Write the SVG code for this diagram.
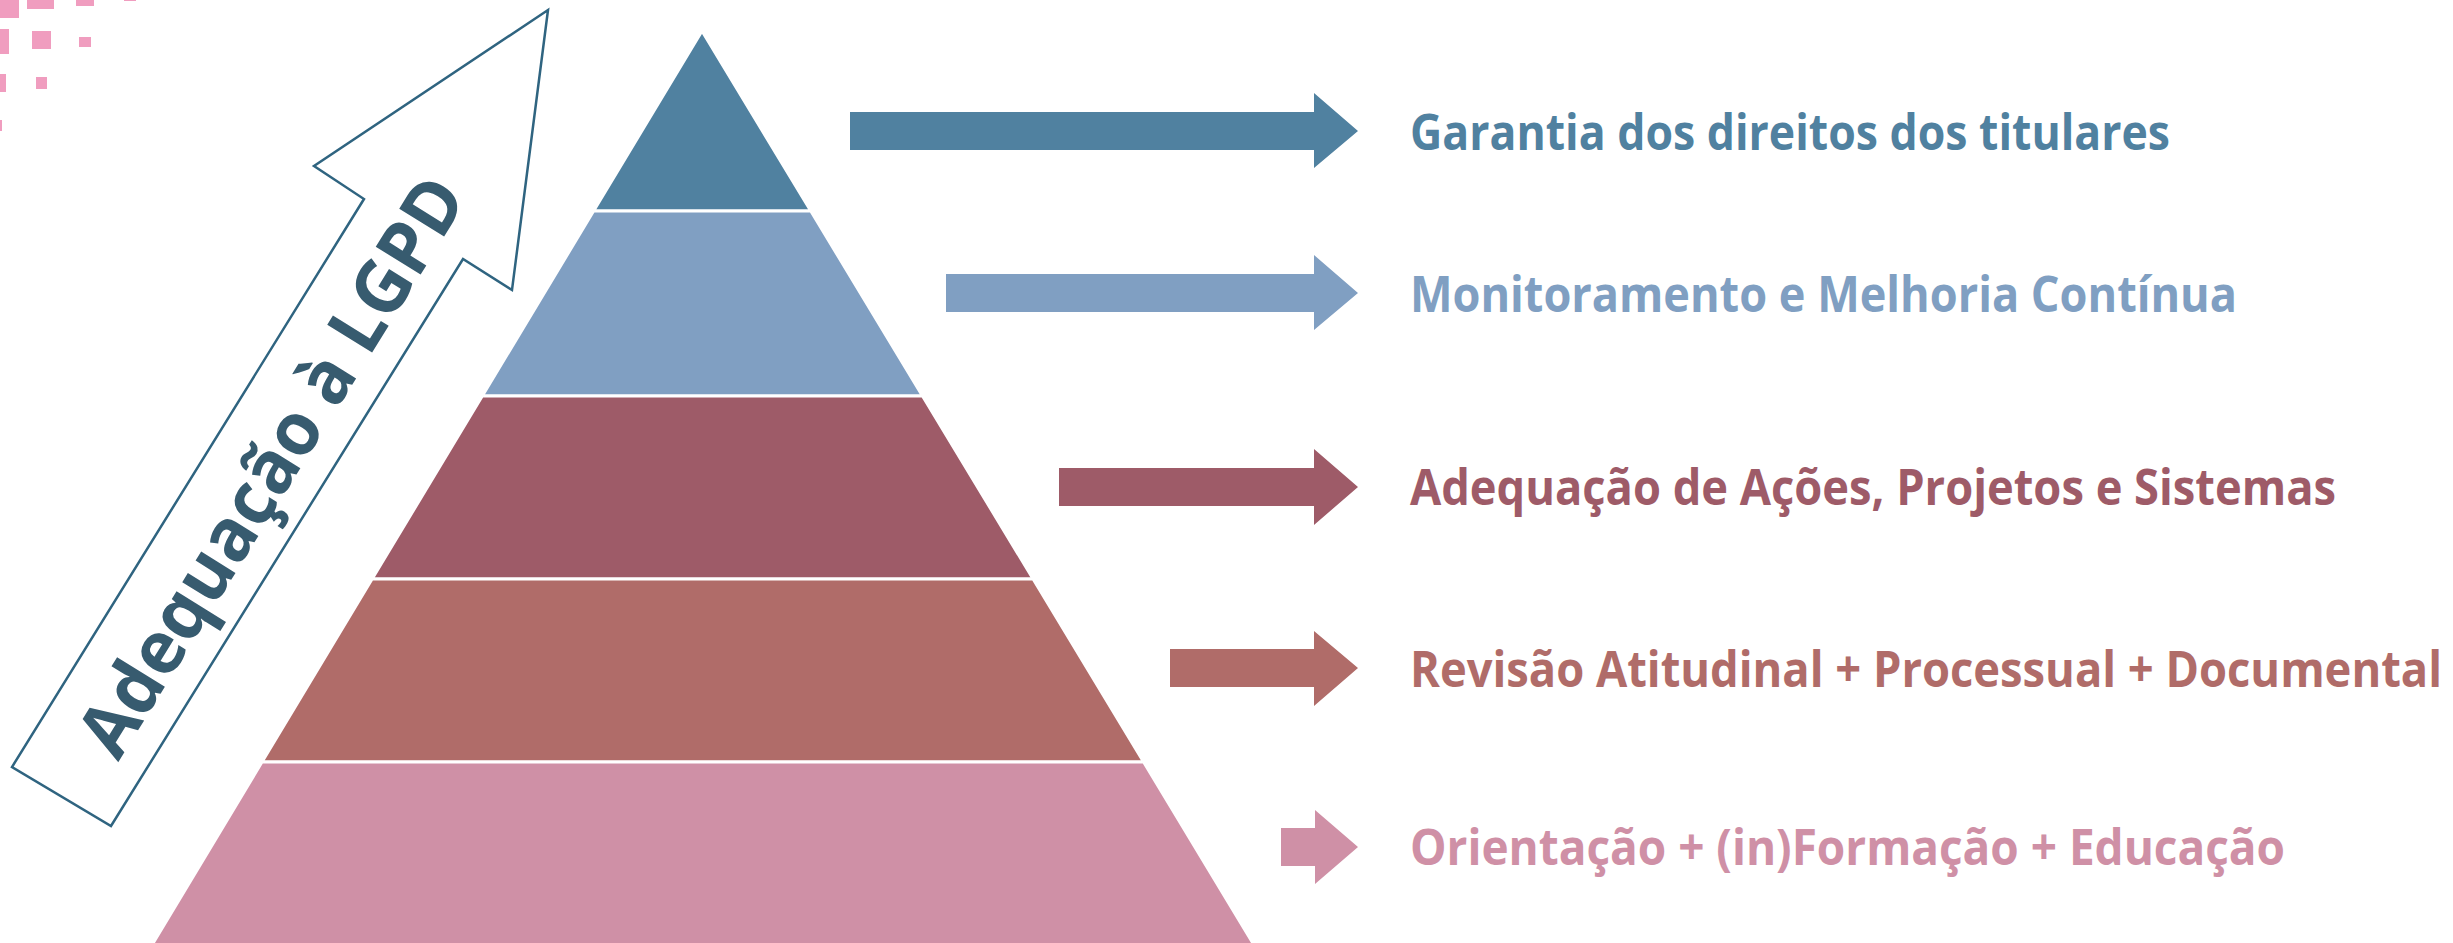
<svg xmlns="http://www.w3.org/2000/svg" width="2453" height="943" viewBox="0 0 2453 943">
<style>
.tier{stroke:#ffffff;stroke-width:3;stroke-linejoin:miter}
.lbl{font-family:"Open Sans","Noto Sans","Liberation Sans",sans-serif;font-weight:700;font-size:50px}
.sq{fill:#F09DBF}
</style>
<rect width="2453" height="943" fill="#ffffff"/>
<g id="decor">
<rect class="sq" x="0" y="0" width="19" height="18"/>
<rect class="sq" x="27" y="0" width="27" height="9"/>
<rect class="sq" x="76" y="0" width="18" height="6"/>
<rect class="sq" x="124" y="0" width="12" height="1"/>
<rect class="sq" x="0" y="29" width="9" height="25"/>
<rect class="sq" x="32" y="31" width="19" height="18"/>
<rect class="sq" x="79" y="37" width="12" height="10"/>
<rect class="sq" x="0" y="74" width="6" height="18"/>
<rect class="sq" x="36" y="77" width="11" height="12"/>
<rect class="sq" x="0" y="120" width="2" height="11"/>
</g>
<g id="pyramid">
<polygon id="tier1" class="tier" fill="#5081A0" points="702,31 810.8,211 593.6,211"/>
<polygon id="tier2" class="tier" fill="#809FC2" points="593.6,211 810.8,211 922.5,396 482.3,396"/>
<polygon id="tier3" class="tier" fill="#9E5B68" points="482.3,396 922.5,396 1033.1,579 372.1,579"/>
<polygon id="tier4" class="tier" fill="#B06C69" points="372.1,579 1033.1,579 1143.6,762 262,762"/>
<polygon id="tier5" class="tier" fill="#CF90A6" points="262,762 1143.6,762 1254,945 152,945"/>
</g>
<g id="big-arrow">
<polygon points="548,10 512,290 463,259 111,826 12,767 364,199 314,166" fill="#ffffff" stroke="#2F6480" stroke-width="2.5" stroke-linejoin="miter"/>
<text transform="translate(273,467) rotate(-58.2)" x="0" y="24" text-anchor="middle" font-family="'Open Sans','Noto Sans','Liberation Sans',sans-serif" font-weight="700" font-size="74" fill="#375B6F" textLength="665" lengthAdjust="spacingAndGlyphs">Adequação à LGPD</text>
</g>
<g id="connectors">
<polygon fill="#5081A0" points="850,112 1314,112 1314,93 1358,131 1314,168 1314,150 850,150"/>
<polygon fill="#809FC2" points="946,274 1314,274 1314,255 1358,293 1314,330 1314,312 946,312"/>
<polygon fill="#9E5B68" points="1059,468 1314,468 1314,449 1358,487 1314,525 1314,506 1059,506"/>
<polygon fill="#B06C69" points="1170,649 1314,649 1314,631 1358,668 1314,706 1314,687 1170,687"/>
<polygon fill="#CF90A6" points="1281,828 1315,828 1315,810 1358,847 1315,884 1315,866 1281,866"/>
</g>
<g id="label1"><text class="lbl" x="1410" y="150" fill="#5081A0" textLength="760" lengthAdjust="spacingAndGlyphs">Garantia dos direitos dos titulares</text></g>
<g id="label2"><text class="lbl" x="1410" y="312" fill="#809FC2" textLength="827" lengthAdjust="spacingAndGlyphs">Monitoramento e Melhoria Contínua</text></g>
<g id="label3"><text class="lbl" x="1410" y="505" fill="#9E5B68" textLength="926" lengthAdjust="spacingAndGlyphs">Adequação de Ações, Projetos e Sistemas</text></g>
<g id="label4"><text class="lbl" x="1410" y="687" fill="#B06C69" textLength="1032" lengthAdjust="spacingAndGlyphs">Revisão Atitudinal + Processual + Documental</text></g>
<g id="label5"><text class="lbl" x="1410" y="865" fill="#CF90A6" textLength="875" lengthAdjust="spacingAndGlyphs">Orientação + (in)Formação + Educação</text></g>
</svg>
